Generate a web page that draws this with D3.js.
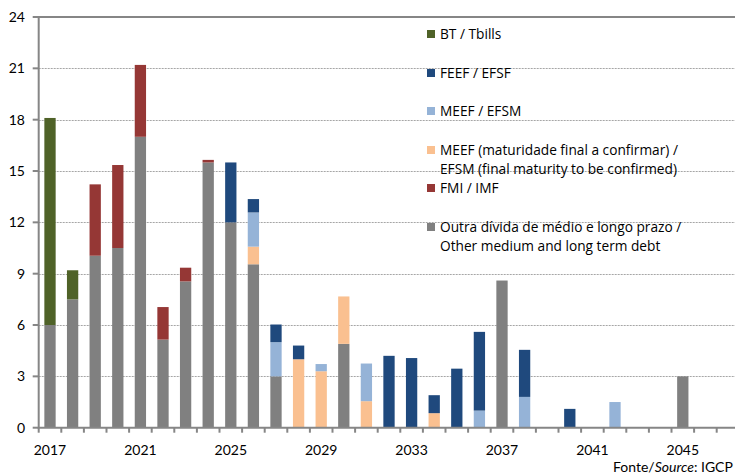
<!DOCTYPE html>
<meta charset="utf-8">
<title>Perfil de amortização</title>
<style>
body { margin: 0; background: #fff; }
svg { display: block; font-family: Lato, "Open Sans", sans-serif; }
.grid line { stroke: #a6a6a6; stroke-width: 1; stroke-dasharray: 2,1; }
.axisline { stroke: #868686; stroke-width: 2; fill: none; }
.tick-label { font-size: 14px; fill: #000; }
.legend text { font-family: "Open Sans", sans-serif; font-size: 13.7px; fill: #000; }
</style>
<script src="https://d3js.org/d3.v7.min.js"></script>
<body>
<script>

var width = 735, height = 474;

// years shown on the x axis (last one is cut by the frame)
var years = d3.range(2017, 2048);

// values in billion euros (2017 .. 2046)
var other      = [6.0, 7.5, 10.05, 10.5, 17.0, 5.15, 8.55, 15.5, 12.0, 9.55, 3.0, 0, 0, 4.9, 0, 0, 0, 0, 0, 0, 8.6, 0, 0, 0, 0, 0, 0, 0, 3.0, 0];
var meefTbc    = [0, 0, 0, 0, 0, 0, 0, 0, 0, 1.03, 0, 4.0, 3.3, 2.77, 1.55, 0, 0, 0.85, 0, 0, 0, 0, 0, 0, 0, 0, 0, 0, 0, 0];
var meef       = [0, 0, 0, 0, 0, 0, 0, 0, 0, 2.0, 2.0, 0, 0.42, 0, 2.2, 0, 0, 0, 0, 1.0, 0, 1.8, 0, 0, 0, 1.5, 0, 0, 0, 0];
var feef       = [0, 0, 0, 0, 0, 0, 0, 0, 3.5, 0.78, 1.03, 0.8, 0, 0, 0, 4.2, 4.07, 1.05, 3.45, 4.6, 0, 2.75, 0, 1.1, 0, 0, 0, 0, 0, 0];
var fmi        = [0, 0, 4.17, 4.85, 4.2, 1.9, 0.8, 0.15, 0, 0, 0, 0, 0, 0, 0, 0, 0, 0, 0, 0, 0, 0, 0, 0, 0, 0, 0, 0, 0, 0];
var bt         = [12.1, 1.7, 0, 0, 0, 0, 0, 0, 0, 0, 0, 0, 0, 0, 0, 0, 0, 0, 0, 0, 0, 0, 0, 0, 0, 0, 0, 0, 0, 0];

var yTicks = [0, 3, 6, 9, 12, 15, 18, 21, 24];
var xLabels = [2017, 2021, 2025, 2029, 2033, 2037, 2041, 2045];

var keys = ["other", "meefTbc", "meef", "feef", "fmi", "bt"];
var colors = {
  bt: "#4f6228", feef: "#1f497d", meef: "#95b3d7",
  meefTbc: "#fac090", fmi: "#953735", other: "#808080"
};
var legendItems = [
  { key: "bt", lines: ["BT / Tbills"] },
  { key: "feef", lines: ["FEEF / EFSF"] },
  { key: "meef", lines: ["MEEF / EFSM"] },
  { key: "meefTbc", lines: ["MEEF (maturidade final a confirmar) /", "EFSM (final maturity to be confirmed)"] },
  { key: "fmi", lines: ["FMI / IMF"] },
  { key: "other", lines: ["Outra dívida de médio e longo prazo /", "Other medium and long term debt"] }
];
var legendY = [34, 73, 111, 150, 188, 227];

var rows = other.map(function(v, i) {
  return { year: 2017 + i, other: other[i], meefTbc: meefTbc[i], meef: meef[i],
           feef: feef[i], fmi: fmi[i], bt: bt[i] };
});

// plot frame (note: "top" is a reserved window property, so use other names)
var plotLeft = 38.7, plotTop = 17, plotBottom = 427.7, step = 22.6;

var x = d3.scaleBand()
    .domain(years)
    .range([plotLeft, plotLeft + step * years.length])
    .paddingInner(0.5)
    .paddingOuter(0.25);

var y = d3.scaleLinear()
    .domain([0, 24])
    .range([plotBottom, plotTop]);

var svg = d3.select("body").append("svg")
    .attr("width", width)
    .attr("height", height);

// dotted gridlines
svg.append("g").attr("class", "grid")
  .selectAll("line")
    .data(yTicks.filter(function(d) { return d > 0 && d < 24; }))
  .enter().append("line")
    .attr("x1", plotLeft).attr("x2", width)
    .attr("y1", function(d) { return Math.round(y(d)) + 0.5; })
    .attr("y2", function(d) { return Math.round(y(d)) + 0.5; });

// stacked bars
var series = d3.stack().keys(keys)(rows);

svg.append("g")
  .selectAll("g")
    .data(series)
  .enter().append("g")
    .attr("fill", function(d) { return colors[d.key]; })
  .selectAll("rect")
    .data(function(d) { return d.filter(function(p) { return p[1] - p[0] > 0; }); })
  .enter().append("rect")
    .attr("x", function(d) { return x(d.data.year); })
    .attr("width", x.bandwidth())
    .attr("y", function(d) { return y(d[1]); })
    .attr("height", function(d) { return y(d[0]) - y(d[1]); });

// frame: left axis, top border, bottom axis
svg.append("path").attr("class", "axisline")
    .attr("d", "M" + width + "," + y(24) + "H" + plotLeft + "V" + y(0) + "H" + width);

// y ticks and labels
svg.append("g").selectAll("line")
    .data(yTicks)
  .enter().append("line")
    .attr("class", "axisline")
    .attr("x1", plotLeft - 6).attr("x2", plotLeft)
    .attr("y1", function(d) { return y(d); })
    .attr("y2", function(d) { return y(d); });

svg.append("g").selectAll("text")
    .data(yTicks)
  .enter().append("text")
    .attr("class", "tick-label")
    .attr("x", 25)
    .attr("y", function(d) { return y(d); })
    .attr("dy", "0.35em")
    .attr("text-anchor", "end")
    .text(function(d) { return d; });

// x ticks between categories
svg.append("g").selectAll("line")
    .data(d3.range(years.length + 1))
  .enter().append("line")
    .attr("class", "axisline")
    .attr("x1", function(i) { return plotLeft + i * x.step(); })
    .attr("x2", function(i) { return plotLeft + i * x.step(); })
    .attr("y1", y(0)).attr("y2", y(0) + 5);

svg.append("g").selectAll("text")
    .data(xLabels)
  .enter().append("text")
    .attr("class", "tick-label")
    .attr("x", function(d) { return x(d) + x.bandwidth() / 2; })
    .attr("y", 455)
    .attr("text-anchor", "middle")
    .text(function(d) { return d; });

// legend
var legend = svg.append("g").attr("class", "legend")
  .selectAll("g")
    .data(legendItems)
  .enter().append("g")
    .attr("transform", function(d, i) { return "translate(427," + legendY[i] + ")"; });

legend.append("rect")
    .attr("x", 0).attr("y", -4)
    .attr("width", 8).attr("height", 8)
    .attr("fill", function(d) { return colors[d.key]; });

legend.selectAll("text")
    .data(function(d) { return d.lines; })
  .enter().append("text")
    .attr("x", 13)
    .attr("y", function(d, i) { return i * 19; })
    .attr("dy", "0.35em")
    .text(function(d) { return d; });

// source note
var note = svg.append("text")
    .attr("class", "tick-label")
    .attr("x", 613)
    .attr("y", 472);
note.append("tspan").text("Fonte/");
note.append("tspan").style("font-style", "italic").text("Source");
note.append("tspan").text(": IGCP");

</script>
